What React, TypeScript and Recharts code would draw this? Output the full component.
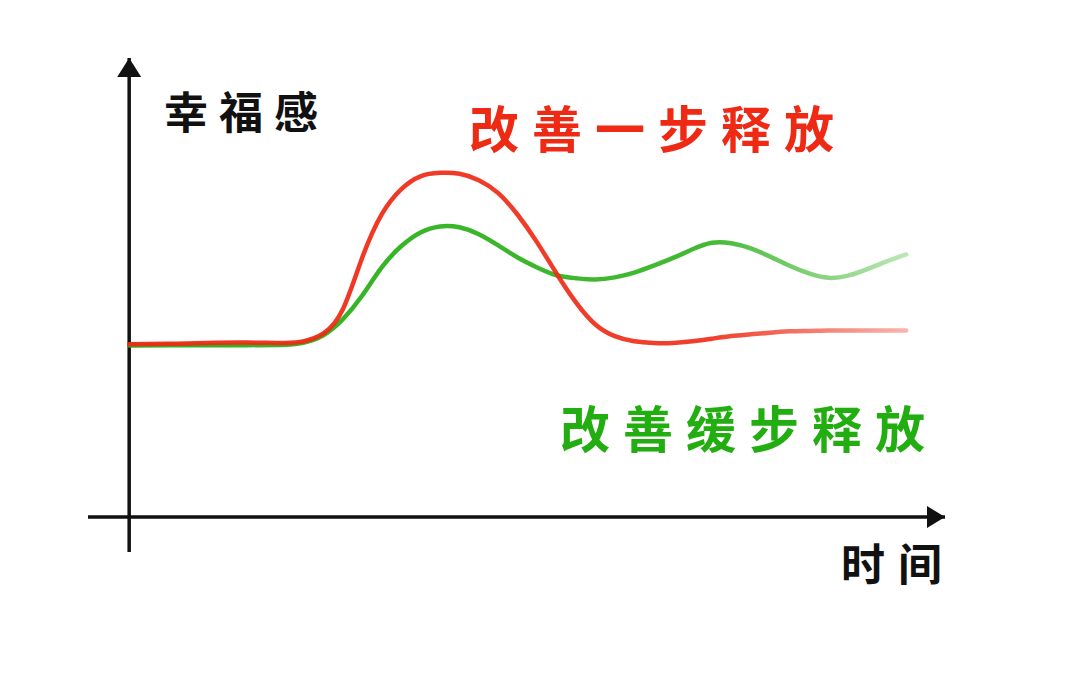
import { Line, LineChart, ReferenceDot, ReferenceLine, XAxis, YAxis } from 'recharts'

// time axis (arbitrary units, 0 = origin, 100 = end of curves)
const times = [
  0, 5, 10, 15, 20, 22.5, 25, 27.5, 30, 32.5, 35, 37.5, 40, 42.5, 45, 47.5, 50, 52.5, 55, 57.5, 60, 62.5, 65,
  67.5, 70, 72.5, 75, 77.5, 80, 82.5, 85, 87.5, 90, 92.5, 95, 97.5, 100,
]

// 改善一步释放 (red)
const fastRelease = [
  40, 40.1, 40.3, 40.4, 40.3, 40.7, 42.5, 48.1, 60.1, 70.1, 75.9, 78.9, 79.7, 79.5, 78.0, 75.0, 70.0, 63.6, 56.4,
  49.7, 44.6, 41.9, 40.7, 40.3, 40.3, 40.7, 41.3, 41.9, 42.3, 42.7, 43.0, 43.1, 43.2, 43.2, 43.2, 43.2, 43.2,
]

// 改善缓步释放 (green)
const slowRelease = [
  39.7, 39.8, 39.8, 39.8, 39.9, 40.4, 42.1, 45.8, 51.3, 57.8, 62.7, 65.9, 67.3, 67.1, 65.5, 62.9, 60.1, 57.8, 56.0,
  55.3, 55.0, 55.5, 56.6, 58.2, 60.0, 62.0, 63.5, 63.4, 62.2, 60.3, 58.2, 56.4, 55.4, 55.9, 57.4, 59.2, 60.8,
]

const data = times.map((t, i) => ({ t, fast: fastRelease[i], slow: slowRelease[i] }))

const RED = '#ee2a14'
const GREEN = '#22ad10'
const INK = '#111'
const font = '"Noto Sans CJK SC", "Noto Sans", sans-serif'

const ArrowRight = (props: any) => {
  const { cx, cy } = props
  return <polygon points={`${cx},${cy} ${cx - 18},${cy - 11} ${cx - 18},${cy + 11}`} fill={INK} />
}

const ArrowUp = (props: any) => {
  const { cx, cy } = props
  return <polygon points={`${cx},${cy} ${cx - 12},${cy + 19} ${cx + 12},${cy + 19}`} fill={INK} />
}

const labelStyle = (color: string, size: number, spacing: number) => ({
  position: 'absolute' as const,
  color,
  fontFamily: font,
  fontWeight: 700,
  fontSize: size,
  letterSpacing: spacing,
  lineHeight: 1,
  whiteSpace: 'nowrap' as const,
})

export default function App() {
  return (
    <div style={{ position: 'absolute', left: 0, top: 0, width: 1080, height: 673, background: '#fff' }}>
      <LineChart width={1080} height={673} data={data} margin={{ top: 58, right: 135, bottom: 121, left: 88 }}>
        <defs>
          <linearGradient id="fadeRed" x1="0" y1="0" x2="1" y2="0">
            <stop offset="0%" stopColor={RED} stopOpacity={0.95} />
            <stop offset="75%" stopColor={RED} stopOpacity={0.9} />
            <stop offset="100%" stopColor={RED} stopOpacity={0.35} />
          </linearGradient>
          <linearGradient id="fadeGreen" x1="0" y1="0" x2="1" y2="0">
            <stop offset="0%" stopColor={GREEN} stopOpacity={0.95} />
            <stop offset="75%" stopColor={GREEN} stopOpacity={0.85} />
            <stop offset="100%" stopColor={GREEN} stopOpacity={0.3} />
          </linearGradient>
        </defs>
        <XAxis dataKey="t" type="number" domain={[-5.3, 105]} hide allowDataOverflow />
        <YAxis type="number" domain={[-8.1, 106.3]} hide allowDataOverflow />
        <ReferenceLine y={0} stroke={INK} strokeWidth={3.5} />
        <ReferenceLine x={0} stroke={INK} strokeWidth={3.5} />
        <ReferenceDot x={105} y={0} r={10} shape={ArrowRight} />
        <ReferenceDot x={0} y={106.3} r={10} shape={ArrowUp} />
        <Line
          type="natural"
          dataKey="slow"
          stroke="url(#fadeGreen)"
          strokeWidth={4.5}
          strokeLinecap="round"
          dot={false}
          activeDot={false}
          isAnimationActive={false}
        />
        <Line
          type="natural"
          dataKey="fast"
          stroke="url(#fadeRed)"
          strokeWidth={4.5}
          strokeLinecap="round"
          dot={false}
          activeDot={false}
          isAnimationActive={false}
        />
      </LineChart>
      <div style={{ ...labelStyle(INK, 44, 11), left: 164, top: 88 }}>幸福感</div>
      <div style={{ ...labelStyle(RED, 50, 13), left: 469, top: 101 }}>改善一步释放</div>
      <div style={{ ...labelStyle(GREEN, 50, 13), left: 560, top: 401 }}>改善缓步释放</div>
      <div style={{ ...labelStyle(INK, 44, 13), left: 841, top: 540 }}>时间</div>
    </div>
  )
}
